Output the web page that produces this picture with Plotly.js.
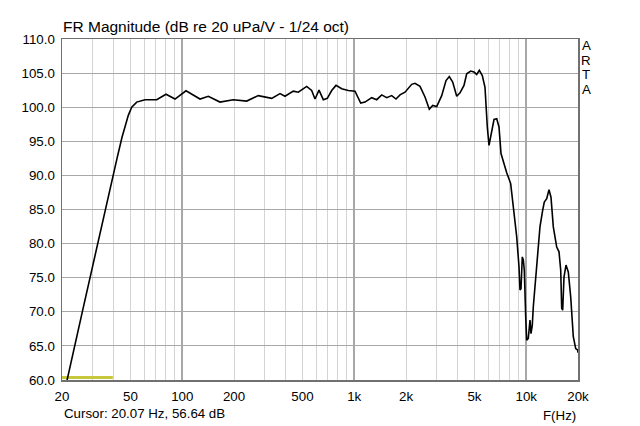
<!DOCTYPE html>
<html>
<head>
<meta charset="utf-8">
<script src="https://cdn.plot.ly/plotly-3.0.1.min.js"></script>
<style>html,body{margin:0;padding:0;background:#fff;}#chart{width:640px;height:426px;}</style>
</head>
<body>
<div id="chart"></div>
<script>
// Frequency (Hz) and magnitude (dB)
var freqHz = [20, 21.38, 26.25, 41.78, 44.66, 48.6, 50.85, 54.36, 60.76, 71.06, 80.5, 90.8, 105.2, 126.9, 141.8, 165.8, 198.2, 237.1, 276.9, 331.3, 370.3, 395.9, 442.3, 473.0, 529.2, 565.7, 591.6, 624.1, 661.1, 697.5, 739.7, 783.4, 845.9, 923.9, 1010.4, 1090.7, 1155.3, 1263.8, 1351.3, 1444.6, 1544.6, 1651.6, 1749.5, 1845.7, 1973.6, 2158.7, 2256, 2412.7, 2579.5, 2732.5, 2859.6, 3016.8, 3225.7, 3416.8, 3571.1, 3737.2, 3943, 4121, 4346.6, 4508, 4755.4, 4970.5, 5153.3, 5336, 5554.5, 5758.9, 5813.5, 5939.4, 6076.3, 6299.9, 6497, 6736, 6946, 7135, 7357, 7700, 8122, 8409, 8803, 9078, 9200, 9324, 9489, 9617, 9746, 9930, 10064, 10282, 10519, 10660, 10847, 10993, 11246, 11660, 12025, 12468, 12738, 13154, 13566, 13932, 14370, 15040, 15510, 15867, 16080, 16296, 16582, 17030, 17563, 18138, 18780, 19395, 19920, 20000];
var magDb = [56.64, 60.0, 70.0, 92.5, 95.6, 98.8, 100.0, 100.75, 101.1, 101.1, 101.9, 101.2, 102.4, 101.2, 101.6, 100.75, 101.1, 100.9, 101.7, 101.3, 102.0, 101.6, 102.35, 102.2, 103.05, 102.45, 101.2, 102.5, 101.1, 101.3, 102.45, 103.2, 102.7, 102.45, 102.35, 100.6, 100.75, 101.4, 101.1, 101.8, 101.4, 101.7, 101.2, 101.8, 102.2, 103.35, 103.5, 103.05, 101.5, 99.7, 100.25, 100.1, 101.7, 103.9, 104.5, 103.7, 101.6, 102.1, 103.2, 104.9, 105.3, 105.15, 104.8, 105.4, 104.65, 102.9, 100.5, 97.1, 94.4, 96.35, 98.2, 98.3, 97.1, 93.2, 91.95, 90.4, 88.8, 85.15, 81.0, 76.6, 73.2, 73.4, 78.05, 77.6, 76.1, 69.3, 65.85, 66.1, 68.8, 66.8, 68.05, 70.7, 73.7, 78.05, 82.5, 84.9, 86.1, 86.6, 87.9, 86.8, 82.45, 79.5, 78.8, 76.1, 70.5, 70.25, 75.1, 76.85, 75.85, 72.2, 66.35, 64.6, 64.4, 64.0];

// Cursor marker at the bottom-left
var cursorFreq = [20, 39.5];
var cursorDb = [60.35, 60.35];

// Tick labels
var xTickVals = [20, 50, 100, 200, 500, 1000, 2000, 5000, 10000, 20000];
var xTickText = ['20', '50', '100', '200', '500', '1k', '2k', '5k', '10k', '20k'];
var xMinorVals = [30, 40, 60, 70, 80, 90, 300, 400, 600, 700, 800, 900, 3000, 4000, 6000, 7000, 8000, 9000];
var xDecadeVals = [100, 1000, 10000];
var yTickVals = [60, 65, 70, 75, 80, 85, 90, 95, 100, 105, 110];

var titleText = 'FR Magnitude (dB re 20 uPa/V - 1/24 oct)';
var cursorText = 'Cursor: 20.07 Hz, 56.64 dB';
var xLabel = 'F(Hz)';
var brandLetters = ['A', 'R', 'T', 'A'];

var FONT = 'Liberation Sans, Arial, sans-serif';
var xRange = [Math.log10(20), Math.log10(20000)];

var traces = [
  {x: [], y: [], type: 'scatter', mode: 'lines', xaxis: 'x2', yaxis: 'y', hoverinfo: 'skip'},
  {x: cursorFreq, y: cursorDb, type: 'scatter', mode: 'lines', line: {color: '#c8c83c', width: 3}, hoverinfo: 'skip', xaxis: 'x'},
  {x: freqHz, y: magDb, type: 'scatter', mode: 'lines', line: {color: '#000000', width: 1.6}, xaxis: 'x'}
];

var annotations = [
  {text: titleText, xref: 'paper', yref: 'paper', x: 0, y: 1, xanchor: 'left', yanchor: 'bottom', yshift: 2, xshift: -1, showarrow: false, font: {family: FONT, size: 15.5, color: '#000'}},
  {text: cursorText, xref: 'paper', yref: 'paper', x: 0, y: 0, xanchor: 'left', yanchor: 'middle', yshift: -33, showarrow: false, font: {family: FONT, size: 13.3, color: '#000'}},
  {text: xLabel, xref: 'paper', yref: 'paper', x: 1, y: 0, xanchor: 'right', yanchor: 'middle', yshift: -35, showarrow: false, font: {family: FONT, size: 13.3, color: '#000'}}
];
brandLetters.forEach(function (ch, i) {
  annotations.push({text: ch, xref: 'paper', yref: 'paper', x: 1, y: 1, xanchor: 'center', yanchor: 'middle', xshift: 8, yshift: -6.5 - i * 14.5, showarrow: false, font: {family: FONT, size: 13.3, color: '#000'}});
});

var layout = {
  width: 640, height: 426,
  margin: {l: 62, r: 62, t: 38.5, b: 46, pad: 0},
  paper_bgcolor: '#ffffff', plot_bgcolor: '#ffffff',
  showlegend: false,
  font: {family: FONT, size: 13.3, color: '#000'},
  xaxis: {
    type: 'log', range: xRange, tickmode: 'array', tickvals: xTickVals, ticktext: xTickText,
    showgrid: true, gridcolor: '#d4d4d4', gridwidth: 1,
    minor: {tickmode: 'array', tickvals: xMinorVals, showgrid: true, gridcolor: '#d4d4d4', gridwidth: 1, ticks: ''},
    ticks: '', showline: true, mirror: true, linecolor: '#707070', linewidth: 1.5,
    zeroline: false, tickfont: {family: FONT, size: 13.3, color: '#000'}, ticklabelstandoff: 4
  },
  xaxis2: {
    type: 'log', range: xRange, overlaying: 'x', tickmode: 'array', tickvals: xDecadeVals,
    showticklabels: false, showgrid: true, gridcolor: '#a8a8a8', gridwidth: 1.5, ticks: '', showline: false, zeroline: false
  },
  yaxis: {
    range: [60, 110], tickmode: 'array', tickvals: yTickVals, tickformat: '.1f',
    showgrid: true, gridcolor: '#a8a8a8', gridwidth: 1, ticks: '',
    showline: true, mirror: true, linecolor: '#707070', linewidth: 1.5,
    zeroline: false, tickfont: {family: FONT, size: 13.3, color: '#000'}, ticklabelstandoff: 3
  },
  annotations: annotations
};

Plotly.newPlot('chart', traces, layout, {displayModeBar: false, staticPlot: true});
</script>
</body>
</html>
